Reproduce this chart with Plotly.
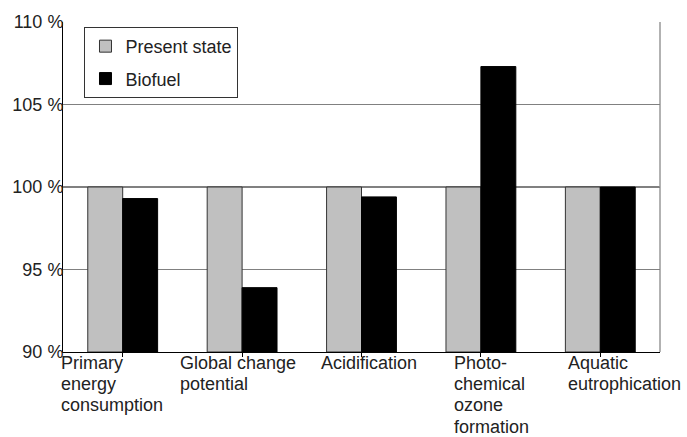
import plotly.graph_objects as go

categories = [
    "Primary<br>energy<br>consumption",
    "Global change<br>potential",
    "Acidification",
    "Photo-<br>chemical<br>ozone<br>formation",
    "Aquatic<br>eutrophication",
]
present_state = [100, 100, 100, 100, 100]
biofuel = [99.3, 93.9, 99.4, 107.3, 100.0]
y_ticks = [90, 95, 100, 105, 110]
y_tick_labels = [f"{v} %" for v in y_ticks]

# Horizontal offset (px) of each category label from the left edge of its slot
label_offsets = [-3, -3, 18, 32, 26]

FONT = "Liberation Sans, Arial, sans-serif"
TEXT = "#222222"
LINE_PITCH = 21.2
idx = list(range(len(categories)))

fig = go.Figure()
fig.add_trace(go.Bar(
    x=idx, y=[v - 90 for v in present_state], base=90, name="Present state",
    legendgroup="a",
    marker=dict(color="#c0c0c0", line=dict(color="#333333", width=1)),
))
fig.add_trace(go.Bar(
    x=idx, y=[v - 90 for v in biofuel], base=90, name="Biofuel",
    legendgroup="b",
    marker=dict(color="#000000", line=dict(color="#000000", width=1)),
))

# Category labels, left-aligned lines, one annotation per line for tight spacing
for i, label in enumerate(categories):
    for k, line in enumerate(label.split("<br>")):
        fig.add_annotation(
            x=i - 0.5, y=0, xref="x", yref="paper", text=line,
            xanchor="left", yanchor="top", align="left", showarrow=False,
            yshift=0 - k * LINE_PITCH, xshift=label_offsets[i], borderpad=0,
            font=dict(family=FONT, size=18, color=TEXT),
        )

# Reference line at 100 %
fig.add_shape(type="line", xref="paper", yref="y", x0=0, x1=1, y0=100, y1=100,
              line=dict(color="#000000", width=1), layer="below")
# Right border of the plot area
fig.add_shape(type="line", xref="paper", yref="paper", x0=1, x1=1, y0=0, y1=1,
              line=dict(color="#999999", width=1.5), layer="below")

fig.update_layout(
    width=687, height=437,
    margin=dict(l=62, r=27, t=19, b=85),
    paper_bgcolor="white", plot_bgcolor="white",
    barmode="group", bargap=0.415, bargroupgap=0,
    font=dict(family=FONT, size=18, color=TEXT),
    legend=dict(
        x=0.036, y=0.985, xanchor="left", yanchor="top",
        bordercolor="#333333", borderwidth=1, bgcolor="white",
        font=dict(family=FONT, size=18, color=TEXT),
        itemwidth=30, tracegroupgap=6,
    ),
    xaxis=dict(
        range=[-0.5, len(categories) - 0.5], tickmode="array",
        tickvals=idx, ticktext=[""] * len(idx), tickson="boundaries",
        ticks="outside", ticklen=4, tickcolor="#000000",
        showline=True, linecolor="#000000", linewidth=1,
        showgrid=False, zeroline=False,
    ),
    yaxis=dict(
        range=[90, 110], tickmode="array", tickvals=y_ticks,
        ticktext=y_tick_labels, ticks="", ticklabelstandoff=-5,
        showline=True, linecolor="#000000",
        linewidth=1, showgrid=True, gridcolor="#808080", gridwidth=1,
        zeroline=False, tickfont=dict(family=FONT, size=18, color=TEXT),
    ),
)

fig.write_html("out.html")
